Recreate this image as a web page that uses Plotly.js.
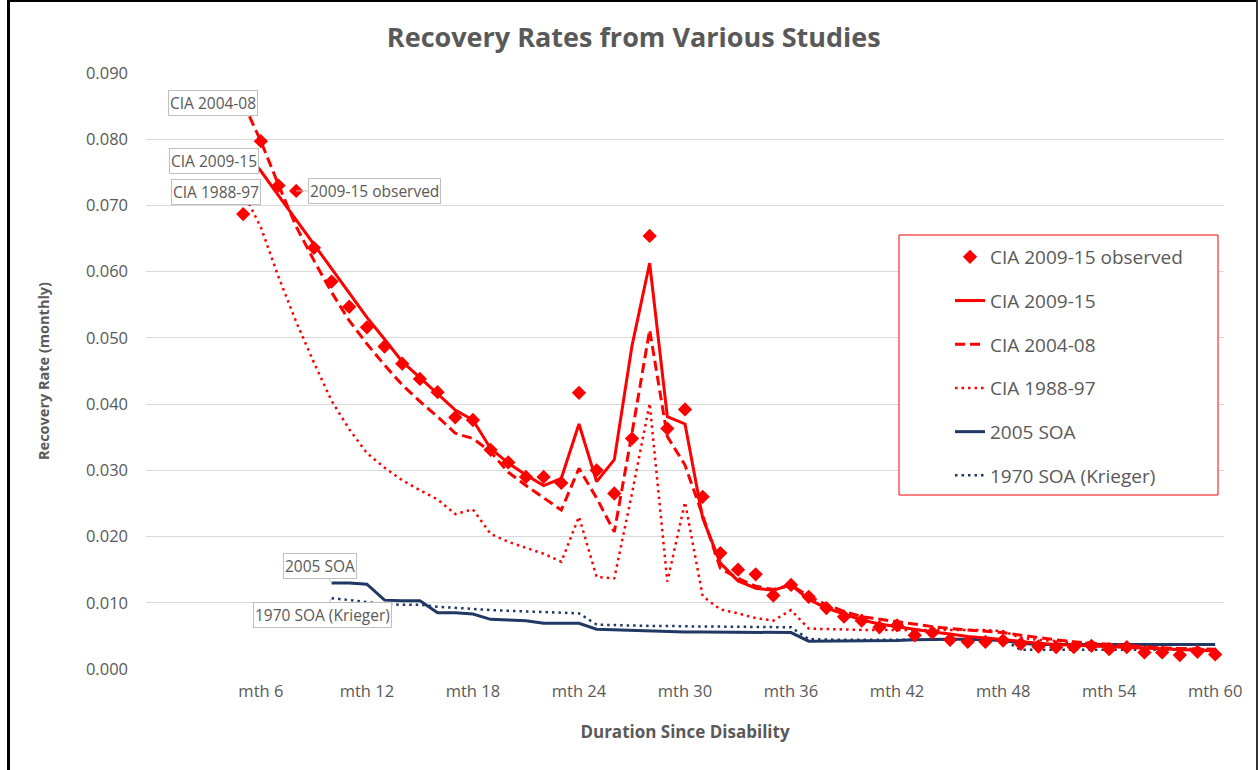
<!DOCTYPE html>
<html>
<head>
<meta charset="utf-8">
<script src="https://cdn.plot.ly/plotly-3.0.1.min.js"></script>
<style>
  html, body { margin: 0; padding: 0; background: #ffffff; }
  #wrap { position: relative; width: 1260px; height: 770px; overflow: hidden; }
  #chart { position: absolute; left: 0; top: 0; width: 1260px; height: 770px; }
  .frame { position: absolute; background: #000; z-index: 5; }
</style>
</head>
<body>
<div id="wrap">
  <div id="chart"></div>
  <div class="frame" style="left:7px; top:0; width:1251px; height:2px;"></div>
  <div class="frame" style="left:7px; top:0; width:3px; height:770px;"></div>
  <div class="frame" style="left:1256px; top:0; width:2px; height:770px; background:#333;"></div>
</div>
<script>
// ---- Data ----
const monthsCIA = [5,6,7,8,9,10,11,12,13,14,15,16,17,18,19,20,21,22,23,24,25,26,27,28,29,30,31,32,33,34,35,36,37,38,39,40,41,42,43,44,45,46,47,48,49,50,51,52,53,54,55,56,57,58,59,60];
const monthsSOA = [10,11,12,13,14,15,16,17,18,19,20,21,22,23,24,25,26,27,28,29,30,31,32,33,34,35,36,37,38,39,40,41,42,43,44,45,46,47,48,49,50,51,52,53,54,55,56,57,58,59,60];

const cia0915Observed = [0.0687,0.0797,0.0730,0.0722,0.0636,0.0585,0.0547,0.0516,0.0487,0.0461,0.0438,0.0418,0.0380,0.0376,0.0331,0.0312,0.0290,0.0290,0.0281,0.0417,0.0300,0.0265,0.0348,0.0654,0.0363,0.0392,0.0260,0.0175,0.0150,0.0143,0.0111,0.0127,0.0109,0.0092,0.0079,0.0073,0.0063,0.0066,0.0051,0.0055,0.0044,0.0041,0.0041,0.0043,0.0038,0.0034,0.0033,0.0033,0.0035,0.0030,0.0033,0.0025,0.0025,0.0021,0.0026,0.0022];

const cia0915 = [0.0785,0.0752,0.0715,0.0678,0.0641,0.0605,0.0568,0.0531,0.0498,0.0464,0.0440,0.0416,0.0391,0.0376,0.0333,0.0311,0.0293,0.0277,0.0288,0.0370,0.0283,0.0316,0.0488,0.0613,0.0381,0.0370,0.0228,0.0160,0.0133,0.0122,0.0119,0.0127,0.0105,0.0092,0.0083,0.0074,0.0068,0.0064,0.0059,0.0056,0.0053,0.0049,0.0047,0.0044,0.0041,0.0039,0.0037,0.0036,0.0034,0.0033,0.0032,0.0031,0.0030,0.0029,0.0028,0.0027];

const cia0408 = [0.0855,0.0797,0.0731,0.0668,0.0617,0.0569,0.0526,0.0491,0.0459,0.0429,0.0404,0.0381,0.0356,0.0348,0.0328,0.0297,0.0277,0.0259,0.0240,0.0303,0.0258,0.0207,0.0356,0.0512,0.0351,0.0308,0.0232,0.0152,0.0137,0.0125,0.0120,0.0127,0.0110,0.0097,0.0087,0.0079,0.0075,0.0071,0.0067,0.0064,0.0061,0.0059,0.0057,0.0055,0.0051,0.0047,0.0044,0.0041,0.0039,0.0037,0.0035,0.0033,0.0032,0.0031,0.0030,0.0030];

const cia8897 = [0.0720,0.0667,0.0592,0.0524,0.0463,0.0405,0.0362,0.0326,0.0304,0.0285,0.0270,0.0256,0.0234,0.0241,0.0204,0.0192,0.0183,0.0174,0.0162,0.0230,0.0139,0.0137,0.0265,0.0401,0.0132,0.0252,0.0110,0.0090,0.0084,0.0077,0.0073,0.0089,0.0061,0.0060,0.0059,0.0059,0.0059,0.0059,0.0059,0.0059,0.0059,0.0059,0.0059,0.0057,0.0047,0.0044,0.0042,0.0040,0.0038,0.0036,0.0034,0.0033,0.0032,0.0031,0.0030,0.0029];

const soa2005 = [0.0130,0.0130,0.0128,0.0104,0.0103,0.0103,0.0085,0.0085,0.0083,0.0075,0.0074,0.0073,0.0069,0.0069,0.0069,0.0060,0.0059,0.0059,0.0058,0.0057,0.0056,0.0056,0.0056,0.0056,0.0056,0.0056,0.0055,0.0042,0.0042,0.0042,0.0042,0.0043,0.0043,0.0044,0.0045,0.0045,0.0045,0.0044,0.0043,0.0039,0.0037,0.0037,0.0037,0.0037,0.0037,0.0037,0.0037,0.0037,0.0037,0.0037,0.0037];

const soa1970 = [0.0107,0.0104,0.0101,0.0098,0.0097,0.0097,0.0094,0.0092,0.0090,0.0089,0.0088,0.0087,0.0086,0.0085,0.0084,0.0067,0.0066,0.0066,0.0065,0.0065,0.0064,0.0064,0.0064,0.0064,0.0063,0.0063,0.0063,0.0045,0.0044,0.0044,0.0044,0.0044,0.0044,0.0044,0.0044,0.0044,0.0044,0.0044,0.0044,0.0029,0.0029,0.0029,0.0029,0.0029,0.0029,0.0029,0.0029,0.0029,0.0029,0.0029,0.0029];

const tickMonths = [6,12,18,24,30,36,42,48,54,60];
const tickLabels = tickMonths.map(m => 'mth ' + m);

const seriesNames = ['CIA 2009-15 observed','CIA 2009-15','CIA 2004-08','CIA 1988-97','2005 SOA','1970 SOA (Krieger)'];

// ---- Styling ----
const RED = '#ff0000';
const NAVY = '#203864';
const GREY = '#595959';
const FONT = '"Open Sans", "Noto Sans", sans-serif';

const traces = [
  {x: monthsSOA, y: soa1970, name: seriesNames[5], mode: 'lines', legendgroup: 'g6', legendrank: 6,
   line: {color: NAVY, width: 2.5, dash: '2.5px,4px'}},
  {x: monthsSOA, y: soa2005, name: seriesNames[4], mode: 'lines', legendgroup: 'g5', legendrank: 5,
   line: {color: NAVY, width: 3}},
  {x: monthsCIA, y: cia8897, name: seriesNames[3], mode: 'lines', legendgroup: 'g4', legendrank: 4,
   line: {color: RED, width: 2.5, dash: '2.5px,4px'}},
  {x: monthsCIA, y: cia0408, name: seriesNames[2], mode: 'lines', legendgroup: 'g3', legendrank: 3,
   line: {color: RED, width: 3, dash: '10px,5px'}},
  {x: monthsCIA, y: cia0915, name: seriesNames[1], mode: 'lines', legendgroup: 'g2', legendrank: 2,
   line: {color: RED, width: 3}},
  {x: monthsCIA, y: cia0915Observed, name: seriesNames[0], mode: 'markers', legendgroup: 'g1', legendrank: 1,
   marker: {symbol: 'diamond', size: 11, color: RED}}
];

const lblFont = {family: FONT, size: 15.5, color: GREY};
function box(text, x, y, extra) {
  return Object.assign({
    text: text, x: x, y: y, xref: 'x', yref: 'y', showarrow: false,
    font: lblFont, bgcolor: '#ffffff', bordercolor: '#bfbfbf', borderwidth: 1, borderpad: 1
  }, extra || {});
}

const annotations = [
  box('CIA 2004-08', 3.28, 0.0855),
  box('CIA 2009-15', 3.34, 0.0767),
  box('CIA 1988-97', 3.45, 0.0720),
  box('2009-15 observed', 8, cia0915Observed[3], {showarrow: true, ax: 78, ay: 0, arrowhead: 0, arrowwidth: 1, arrowcolor: '#bfbfbf', standoff: 0}),
  box('2005 SOA', 10, soa2005[0], {showarrow: true, ax: -12, ay: -17, arrowhead: 0, arrowwidth: 1, arrowcolor: '#bfbfbf', standoff: 0}),
  box('1970 SOA (Krieger)', 10, soa1970[0], {showarrow: true, ax: -9, ay: 17, arrowhead: 0, arrowwidth: 1, arrowcolor: '#bfbfbf', standoff: 0})
];

const layout = {
  width: 1260, height: 770,
  margin: {l: 146, r: 36, t: 73, b: 101},
  paper_bgcolor: '#ffffff', plot_bgcolor: '#ffffff',
  font: {family: FONT, color: GREY, size: 16},
  title: {text: '<b>Recovery Rates from Various Studies</b>', font: {family: FONT, size: 27, color: GREY},
          x: 0.503, xref: 'container', y: 0.951, yref: 'container', xanchor: 'center', yanchor: 'middle'},
  xaxis: {
    range: [-0.5, 60.5], tickvals: tickMonths, ticktext: tickLabels,
    showgrid: false, zeroline: false, showline: false, ticks: '',
    tickfont: {family: FONT, size: 16.5, color: GREY}, ticklabelstandoff: 10,
    title: {text: '<b>Duration Since Disability</b>', font: {family: FONT, size: 17, color: GREY}, standoff: 25}
  },
  yaxis: {
    range: [0, 0.09], dtick: 0.01, tickformat: '.3f',
    showgrid: true, gridcolor: '#d9d9d9', gridwidth: 1, zeroline: false, showline: false, ticks: '',
    tickfont: {family: FONT, size: 16.5, color: GREY}, ticklabelstandoff: 17,
    title: {text: '<b>Recovery Rate (monthly)</b>', font: {family: FONT, size: 14.5, color: GREY}, standoff: 32}
  },
  legend: {
    x: (950 - 146) / 1078, y: (669 - 238) / 596, xanchor: 'left', yanchor: 'top',
    bgcolor: 'rgba(0,0,0,0)', borderwidth: 0, tracegroupgap: 16,
    font: {family: FONT, size: 19, color: GREY}
  },
  shapes: [
    {type: 'rect', xref: 'paper', yref: 'paper', x0: (899 - 146) / 1078, x1: (1218 - 146) / 1078,
     y0: (669 - 495) / 596, y1: (669 - 235) / 596, line: {color: RED, width: 1}, fillcolor: 'rgba(255,255,255,1)', layer: 'above'}
  ],
  annotations: annotations,
  showlegend: true
};

Plotly.newPlot('chart', traces, layout, {displayModeBar: false, staticPlot: true});
</script>
</body>
</html>
